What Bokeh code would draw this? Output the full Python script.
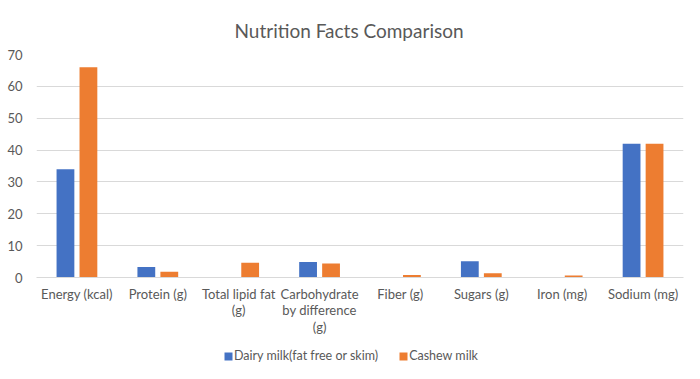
from bokeh.plotting import figure
from bokeh.models import FixedTicker, Legend, LegendItem, ColumnDataSource, Range1d
from bokeh.layouts import column
from bokeh.embed import file_html
from bokeh.resources import INLINE

categories = ["Energy (kcal)", "Protein (g)", "Total lipid fat\n(g)", "Carbohydrate\nby difference\n(g)",
              "Fiber (g)", "Sugars (g)", "Iron (mg)", "Sodium (mg)"]
dairy = [34, 3.3, 0.1, 4.9, 0, 5.1, 0, 42]
cashew = [66, 1.8, 4.6, 4.4, 0.8, 1.3, 0.6, 42]
series_names = ["Dairy milk(fat free or skim)", "Cashew milk"]
y_ticks = [0, 10, 20, 30, 40, 50, 60, 70]

FONT = "Lato"
TXT = "#595959"
BLUE = "#4472C4"
ORANGE = "#ED7D31"

idx = list(range(len(categories)))
src = ColumnDataSource(dict(
    xb=[i - 0.142 for i in idx], xo=[i + 0.142 for i in idx],
    dairy=dairy, cashew=cashew))

p = figure(width=684, height=338, output_backend="svg", toolbar_location=None,
           x_range=Range1d(-0.5, len(categories) - 0.5), y_range=Range1d(0, 70),
           min_border_left=36, min_border_right=1, min_border_top=54, min_border_bottom=61,
           title="Nutrition Facts Comparison")
p.outline_line_color = None
p.background_fill_color = "white"
p.border_fill_color = "white"

p.vbar(x="xb", top="dairy", width=0.22, source=src, fill_color=BLUE, line_color=None)
p.vbar(x="xo", top="cashew", width=0.22, source=src, fill_color=ORANGE, line_color=None)

p.title.align = "left"
p.title.offset = 198
p.title.text_font = FONT
p.title.text_font_size = "19px"
p.title.text_font_style = "normal"
p.title.text_color = TXT
p.title.standoff = 26

p.xaxis.ticker = FixedTicker(ticks=idx)
p.xaxis.major_label_overrides = {i: c for i, c in zip(idx, categories)}
p.xaxis.major_tick_line_color = None
p.xaxis.minor_tick_line_color = None
p.xaxis.axis_line_color = "#d9d9d9"
p.xaxis.major_label_text_font = FONT
p.xaxis.major_label_text_font_size = "13px"
p.xaxis.major_label_text_color = TXT
p.xaxis.major_label_text_line_height = 1.05
p.xaxis.major_label_standoff = 2

p.yaxis.ticker = FixedTicker(ticks=y_ticks)
p.yaxis.major_tick_line_color = None
p.yaxis.minor_tick_line_color = None
p.yaxis.axis_line_color = None
p.yaxis.major_label_text_font = FONT
p.yaxis.major_label_text_font_size = "13px"
p.yaxis.major_label_text_color = TXT
p.yaxis.major_label_standoff = 8

p.xgrid.grid_line_color = None
p.ygrid.grid_line_color = "#d9d9d9"
p.ygrid.ticker = FixedTicker(ticks=y_ticks)

# legend strip below the chart (its renderers use the same data, kept out of view)
lg = figure(width=684, height=25, output_backend="svg", toolbar_location=None,
            x_range=Range1d(100, 101), y_range=Range1d(100, 101),
            min_border_left=0, min_border_right=0, min_border_top=0, min_border_bottom=0)
lg.axis.visible = False
lg.grid.visible = False
lg.outline_line_color = None
lg.border_fill_color = "white"
lb = lg.vbar(x="xb", top="dairy", width=0.22, source=src, fill_color=BLUE, line_color=None)
lo = lg.vbar(x="xo", top="cashew", width=0.22, source=src, fill_color=ORANGE, line_color=None)
legend = Legend(items=[LegendItem(label=series_names[0], renderers=[lb]),
                       LegendItem(label=series_names[1], renderers=[lo])],
                location=(187, 0), orientation="horizontal",
                glyph_width=10, glyph_height=10, label_standoff=1, spacing=20,
                padding=2, margin=0, border_line_color=None, background_fill_alpha=0,
                label_text_font=FONT, label_text_font_size="12.5px", label_text_color=TXT)
lg.add_layout(legend, "center")

layout = column(p, lg, spacing=0)
open("out.html", "w").write(file_html(layout, INLINE))
